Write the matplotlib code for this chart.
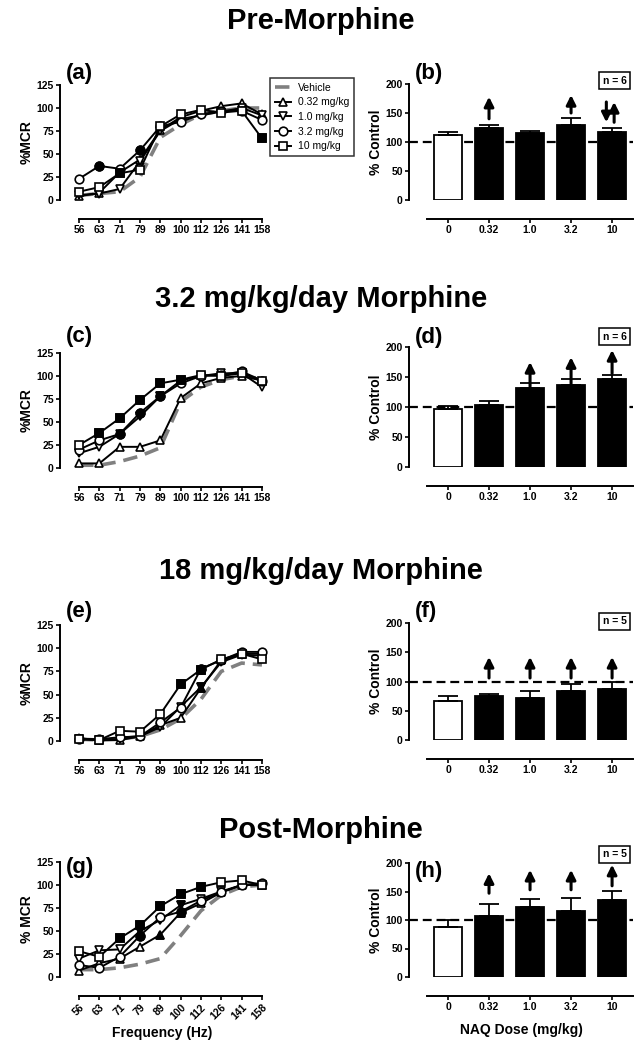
import matplotlib
matplotlib.use('Agg')
import matplotlib.pyplot as plt
import numpy as np

plt.rcParams['font.family'] = ['Liberation Sans', 'DejaVu Sans']
plt.rcParams['font.weight'] = 'bold'
plt.rcParams['axes.labelweight'] = 'bold'

freq_labels = ['56', '63', '71', '79', '89', '100', '112', '126', '141', '158']
dose_labels = ['0', '0.32', '1.0', '3.2', '10']
series_names = ['Vehicle', '0.32 mg/kg', '1.0 mg/kg', '3.2 mg/kg', '10 mg/kg']
row_titles = ['Pre-Morphine', '3.2 mg/kg/day Morphine',
              '18 mg/kg/day Morphine', 'Post-Morphine']

# frequency-response curves (%MCR); filled = indices of filled symbols
a_vehicle = [5, 7, 9, 25, 68, 82, 93, 97, 100, 100]
a_032 = [4, 8, 30, 44, 76, 90, 97, 102, 105, 93]
a_10 = [5, 7, 12, 42, 75, 88, 92, 96, 100, 92]
a_32 = [23, 37, 34, 54, 80, 85, 93, 97, 97, 87]
a_100 = [9, 14, 29, 33, 80, 93, 98, 95, 97, 67]
a_filled = [[], [], [1, 3], [2, 9]]

c_vehicle = [3, 3, 7, 13, 22, 72, 88, 96, 100, 97]
c_032 = [5, 5, 23, 23, 30, 76, 92, 98, 100, 95]
c_10 = [16, 23, 37, 56, 78, 95, 100, 103, 103, 88]
c_32 = [20, 30, 37, 60, 78, 92, 100, 101, 105, 95]
c_100 = [25, 38, 54, 74, 92, 96, 101, 100, 103, 95]
c_filled = [[], [3, 4], [2, 3, 4], [1, 2, 3, 4, 5]]

e_vehicle = [2, 1, 2, 5, 12, 24, 45, 75, 84, 82]
e_032 = [3, 1, 1, 5, 17, 25, 57, 87, 94, 94]
e_10 = [2, 1, 2, 5, 15, 37, 58, 85, 93, 92]
e_32 = [2, 2, 4, 5, 20, 36, 78, 87, 96, 96]
e_100 = [2, 1, 11, 10, 29, 61, 77, 88, 94, 88]
e_filled = [[6], [6], [6], [5, 6]]

g_vehicle = [8, 8, 10, 14, 20, 45, 72, 89, 98, 100]
g_032 = [7, 15, 20, 33, 46, 70, 80, 92, 100, 100]
g_10 = [20, 29, 30, 50, 62, 78, 85, 93, 100, 100]
g_32 = [13, 10, 22, 45, 65, 71, 83, 92, 100, 102]
g_100 = [28, 22, 42, 56, 77, 90, 98, 103, 105, 100]
g_filled = [[4, 5], [3, 4, 5], [3, 5], [2, 3, 4, 5, 6]]

# NAQ dose bars (% control, mean and SEM)
b_mean = [112, 125, 115, 130, 117]
b_sem = [6, 5, 4, 11, 8]
d_mean = [97, 103, 131, 136, 146]
d_sem = [5, 7, 9, 11, 7]
f_mean = [66, 75, 72, 84, 87]
f_sem = [10, 4, 11, 12, 12]
h_mean = [87, 107, 123, 116, 135]
h_sem = [13, 21, 13, 22, 16]
n_labels = ['n = 6', 'n = 6', 'n = 5', 'n = 5']

# arrows: (bar position, start, end)
b_arrows = [(1, 140, 178), (3, 150, 181), (3.86, 169, 134), (4.05, 134, 169)]
d_arrows = [(2, 134, 175), (3, 139, 183), (4, 156, 195)]
f_arrows = [(1, 106, 142), (2, 106, 142), (3, 106, 142), (4, 106, 142)]
h_arrows = [(1, 147, 182), (2, 153, 188), (3, 153, 188), (4, 160, 197)]

W, H = 643, 1050
fig = plt.figure(figsize=(W / 100, H / 100), dpi=100)


def px_axes(left, right, y0, ytop):
    return fig.add_axes([left / W, 1 - y0 / H, (right - left) / W, (y0 - ytop) / H])


def style_axes(ax):
    for s in ['top', 'right']:
        ax.spines[s].set_visible(False)
    for s in ['left', 'bottom']:
        ax.spines[s].set_linewidth(1.4)
    ax.spines['bottom'].set_position(('outward', 13.7))
    ax.tick_params(direction='out', length=3, width=1.2, labelsize=7.5, pad=1.5)


def draw_curves(ax, vehicle, s1, s2, s3, s4, filled, ylab, rotate):
    style_axes(ax)
    x = np.arange(len(freq_labels))
    h = []
    h += ax.plot(x, vehicle, color='#808080', lw=2.6, dashes=(4, 2.2),
                 label=series_names[0], clip_on=False)
    for ser, m, name, fi in zip([s1, s2, s3, s4], ['^', 'v', 'o', 's'],
                                series_names[1:], filled):
        ser = np.array(ser)
        h += ax.plot(x, ser, color='k', lw=1.4, marker=m, ms=6.2, mfc='white',
                     mec='k', mew=1.2, label=name, clip_on=False)
        if fi:
            ax.plot(x[fi], ser[fi], ls='none', marker=m, ms=6.2, mfc='k',
                    mec='k', mew=1.2, clip_on=False)
    ax.set_xlim(-0.935, 9.15)
    ax.set_ylim(0, 125)
    ax.set_yticks([0, 25, 50, 75, 100, 125])
    ax.set_xticks(x)
    if rotate:
        ax.set_xticklabels(freq_labels, rotation=45, ha='right',
                           rotation_mode='anchor')
    else:
        ax.set_xticklabels(freq_labels)
    ax.spines['bottom'].set_bounds(0, 9)
    ax.set_ylabel(ylab, fontsize=10, labelpad=2)
    return h


def draw_bars(ax, mean, sem, arrows, ntext, ny):
    style_axes(ax)
    x = np.arange(len(dose_labels))
    colors = ['white'] + ['black'] * (len(x) - 1)
    ax.bar(x, mean, width=0.68, color=colors, edgecolor='k', lw=1.3, zorder=2)
    ax.errorbar(x, mean, yerr=[np.zeros(len(x)), sem], fmt='none', ecolor='k',
                elinewidth=1.3, capsize=7, capthick=1.3, zorder=3)
    ax.axhline(100, color='k', lw=1.6, dashes=(4, 2.2), zorder=1)
    for xa, y0, y1 in arrows:
        ax.annotate('', xy=(xa, y1), xytext=(xa, y0),
                    arrowprops=dict(arrowstyle='-|>', color='k', lw=2.2,
                                    mutation_scale=14, shrinkA=0, shrinkB=0))
    ax.set_xlim(-0.951, 4.51)
    ax.set_ylim(0, 200)
    ax.set_yticks([0, 50, 100, 150, 200])
    ax.set_xticks(x)
    ax.set_xticklabels(dose_labels)
    ax.spines['bottom'].set_bounds(-0.5, 4.5)
    ax.set_ylabel('% Control', fontsize=10, labelpad=2)
    ax.text(4.06, ny, ntext, fontsize=7.5, fontweight='bold', ha='center',
            va='center', clip_on=False,
            bbox=dict(boxstyle='square,pad=0.35', fc='white', ec='k', lw=1.1))


left_rows = [(200, 85), (468, 353), (741, 625), (977, 862)]
right_rows = [(200, 84), (467, 347), (740, 623), (977, 863)]
title_y = [29, 307, 579, 838]
left_tags = [('(a)', 73), ('(c)', 336), ('(e)', 611), ('(g)', 868)]
right_tags = [('(b)', 73), ('(d)', 338), ('(f)', 612), ('(h)', 871)]

curves = [
    (a_vehicle, a_032, a_10, a_32, a_100, a_filled, '%MCR'),
    (c_vehicle, c_032, c_10, c_32, c_100, c_filled, '%MCR'),
    (e_vehicle, e_032, e_10, e_32, e_100, e_filled, '%MCR'),
    (g_vehicle, g_032, g_10, g_32, g_100, g_filled, '% MCR'),
]
bars = [
    (b_mean, b_sem, b_arrows, 206),
    (d_mean, d_sem, d_arrows, 217),
    (f_mean, f_sem, f_arrows, 203),
    (h_mean, h_sem, h_arrows, 215),
]

handles = None
for i in range(4):
    axl = px_axes(60, 265, *left_rows[i])
    hh = draw_curves(axl, *curves[i], rotate=(i == 3))
    if i == 0:
        handles = hh
    axr = px_axes(409, 633, *right_rows[i])
    mean, sem, arr, ny = bars[i]
    draw_bars(axr, mean, sem, arr, n_labels[i], ny)
    fig.text(321 / W, 1 - title_y[i] / H, row_titles[i], fontsize=21,
             fontweight='bold', ha='center', va='baseline')
    fig.text(66 / W, 1 - left_tags[i][1] / H, left_tags[i][0], fontsize=16,
             fontweight='bold', ha='left', va='center')
    fig.text(415 / W, 1 - right_tags[i][1] / H, right_tags[i][0], fontsize=16,
             fontweight='bold', ha='left', va='center')
    if i == 3:
        axl.set_xlabel('Frequency (Hz)', fontsize=10, labelpad=3)
        axr.set_xlabel('NAQ Dose (mg/kg)', fontsize=10, labelpad=8)

leg = fig.legend(handles, series_names, loc='upper left',
                 bbox_to_anchor=(270 / W, 1 - 78 / H), fontsize=7.5,
                 frameon=True, fancybox=False, edgecolor='k', handlelength=1.6,
                 labelspacing=0.45, borderpad=0.45, handletextpad=0.6,
                 borderaxespad=0)
leg.get_frame().set_linewidth(1.1)
for t in leg.get_texts():
    t.set_fontweight('normal')

fig.savefig('out.png', dpi=100, facecolor='white')
